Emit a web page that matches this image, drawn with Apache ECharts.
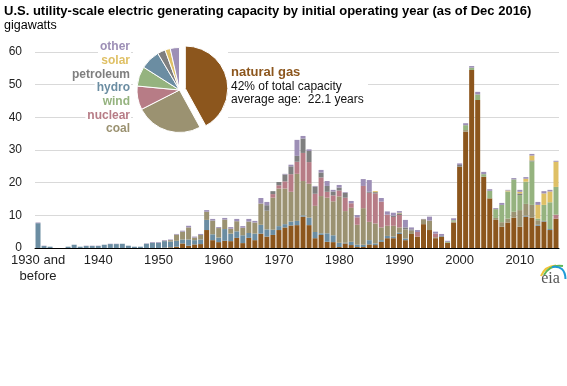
<!DOCTYPE html>
<html><head><meta charset="utf-8">
<script src="https://cdn.jsdelivr.net/npm/echarts@6/dist/echarts.min.js"></script>
<style>html,body{margin:0;padding:0;background:#fff}#c{width:567px;height:386px}</style>
</head><body><div id="c"></div>
<script>
// categories 1930..2016
const years = [];
for (let y = 1930; y <= 2016; y++) years.push(y);
const yearLabels = years.map(y => y === 1930 ? '1930 and\nbefore' : String(y));

// gigawatts, one value per year 1930..2016
const gas = [
 0,0,0,0,0,0,0,0,0,0,
 0,0,0,0,0,0,0,0,0,0,
 0,0.1,0.2,0.4,1.4,0.7,1.1,1.2,5.5,2.4,
 1.8,2.2,2.1,3.1,1.5,3.1,2.4,4.4,3.5,4.0,
 5.5,6.3,6.9,7.0,9.6,7.0,3.0,4.0,1.9,1.8,
 0.3,1.4,0.9,0.3,0.3,1.1,0.9,1.9,3.0,3.0,
 4.3,2.4,4.3,3.5,7.3,5.5,3.0,3.5,1.6,7.8,
 24.9,35.6,54.5,45.3,21.8,15.2,8.6,6.5,7.8,9.3,
 6.5,9.6,9.3,6.8,8.1,5.5,9.0];
const hydro = [
 7.6,0.6,0.4,0,0,0.4,1.0,0.4,0.6,0.6,
 0.6,1.0,1.2,1.2,1.3,0.7,0.4,0.4,1.3,1.6,
 1.6,2.0,1.8,1.8,1.2,1.9,1.3,1.4,3.1,1.8,
 1.4,3.6,2.3,2.0,2.4,1.5,2.0,2.7,2.2,1.6,
 1.2,1.0,1.2,1.3,0.4,2.3,1.9,0.5,2.6,2.1,
 1.3,0.2,1.0,0.7,0.7,1.3,0.5,0.5,0.7,0.5,
 0.4,0.5,0,0,0,0,0,0.2,0,0,
 0,0,0,0,0,0,0,0,0,0,
 0,0.3,0,0.3,0.2,0.3,0];
const coal = [
 0,0,0,0,0,0,0,0,0,0,
 0,0,0,0,0,0,0,0,0,0,
 0,0.1,0.4,1.9,2.4,3.7,0.8,1.4,2.5,4.2,
 2.9,2.9,1.5,3.1,2.3,3.5,3.4,6.5,5.7,9.8,
 11.5,10.9,9.1,14.4,10.5,10.4,8.0,11.4,10.9,10.4,
 14.2,9.7,10.4,6.1,11.2,5.6,6.1,3.9,3.1,3.3,
 1.6,2.8,1.0,0,1.5,2.9,0.3,0,0,0.3,
 0,0.5,0,0,0,0,0.6,1.4,1.2,1.8,
 5.1,3.6,3.9,1.4,0,0,0];
const nuclear = [
 0,0,0,0,0,0,0,0,0,0,
 0,0,0,0,0,0,0,0,0,0,
 0,0,0,0,0,0,0,0,0,0,
 0,0,0,0,0,0,0,0,0,1.1,
 1.0,2.2,5.4,3.7,8.6,6.6,3.7,5.7,1.8,1.8,
 1.8,4.1,1.4,2.3,6.8,8.9,9.2,7.9,3.4,2.7,
 3.8,0,0,1.4,0,0,1.1,0,0,0,
 0,0,0,0,0,0,0,0,0,0,
 0,0,0,0,0,0,1.2];
const wind = [
 0,0,0,0,0,0,0,0,0,0,
 0,0,0,0,0,0,0,0,0,0,
 0,0,0,0,0,0,0,0,0,0,
 0,0,0,0,0,0,0,0,0,0,
 0,0,0,0,0,0,0,0,0,0,
 0,0,0,0,0,0,0,0,0,0,
 0,0,0,0,0,0,0,0,0.3,0.4,
 0,1.5,0.7,1.7,0.8,2.3,2.7,5.3,8.3,9.9,
 4.6,6.8,13.3,0.5,4.9,8.2,8.5];
const petroleum = [
 0,0,0,0,0,0,0,0,0,0,
 0,0,0,0,0,0,0,0,0,0,
 0,0,0,0,0,0,0,0,0,0,
 0,0,0,0,0,0,0,0,1.7,0.9,
 1.0,2.1,2.4,1.8,4.4,3.4,2.2,1.5,1.8,1.2,
 0.9,1.5,0,0,0,0.3,0.4,0,0,0.4,
 0.5,0.6,0.4,0,0,0,0,0,0,0,
 0.5,0,0,0,0,0,0,0,0,0,
 0.5,0,0.3,0,0,0,0];
const solar = [
 0,0,0,0,0,0,0,0,0,0,
 0,0,0,0,0,0,0,0,0,0,
 0,0,0,0,0,0,0,0,0,0,
 0,0,0,0,0,0,0,0,0,0,
 0,0,0,0,0,0,0,0,0,0,
 0,0,0,0,0,0,0.3,0,0,0,
 0.2,0,0,0,0,0,0,0,0,0,
 0,0,0,0,0,0,0,0,0.3,0,
 0.5,0.9,1.5,4.2,3.5,3.3,7.7];
const other = [
 0.2,0.1,0,0,0,0,0,0,0.1,0.1,
 0.1,0,0.1,0.1,0,0,0,0,0.1,0.2,
 0.2,0.2,0.2,0.2,0.3,0.5,0.3,0.3,0.5,0.5,
 0.3,0.5,0.5,0.7,0.5,0.8,0.5,1.7,1.0,0,
 0,0.2,0.5,4.9,0.8,0.5,0.2,0.8,1.5,0.5,
 0.8,0.2,0.7,0.7,2.1,3.6,0,1.1,1.0,0.9,
 0.5,2.3,0.6,0.6,0.1,1.2,0.6,0.6,0.3,0.6,
 0.5,0.6,0.5,0.8,0.7,0.5,0.3,0.6,0.2,0.4,
 0.6,0.5,0.5,0.9,0.7,0.5,0.3];

// share of total capacity (%), pie
const pieNames  = ['natural gas','coal','nuclear','wind','hydro','petroleum','solar','other'];
const pieShares = [42, 25.5, 9, 7.5, 7.5, 3, 2, 3.5];
const yTicks = [0,10,20,30,40,50,60];

const C = {
  'natural gas':'#8c561d', coal:'#9b9271', nuclear:'#b77c86', wind:'#95b37f',
  hydro:'#6b8da2', petroleum:'#7f7f7f', solar:'#dfc065', other:'#9d8fb6'
};
const stackOrder = [['natural gas',gas],['hydro',hydro],['coal',coal],['nuclear',nuclear],
  ['wind',wind],['petroleum',petroleum],['solar',solar],['other',other]];

const FONT = '"Liberation Sans", Arial, sans-serif';
const chart = echarts.init(document.getElementById('c'), null, {renderer:'canvas'});

const barSeries = stackOrder.map(([n, arr]) => ({
  name: n, type: 'bar', stack: 'total', data: arr, barCategoryGap: '17%',
  itemStyle: { color: C[n] }, z: 2, silent: true
}));

const legendLabels = [
  ['other', 47], ['solar', 61], ['petroleum', 74.5], ['hydro', 88],
  ['wind', 102], ['nuclear', 115.5], ['coal', 129]
];

const graphics = [
  { type:'rect', z:3, shape:{x:133, y:43, width:95, height:94}, style:{fill:'#fff'} },
  { type:'rect', z:3, shape:{x:228, y:62, width:140, height:46}, style:{fill:'#fff'} },
  { type:'text', z:6, style:{ text:'natural gas', x:231, y:72, fill:C['natural gas'],
      font:'bold 13px ' + FONT, textAlign:'left', textVerticalAlign:'middle', verticalAlign:'middle' } },
  { type:'text', z:6, style:{ text:'42% of total capacity', x:231, y:86.5, fill:'#111',
      font:'12px ' + FONT, textAlign:'left', textVerticalAlign:'middle', verticalAlign:'middle' } },
  { type:'text', z:6, style:{ text:'average age:  22.1 years', x:231, y:100, fill:'#111',
      font:'12px ' + FONT, textAlign:'left', textVerticalAlign:'middle', verticalAlign:'middle' } },
  // eia logo
  { type:'bezierCurve', z:6, shape:{x1:541, y1:276, cpx1:545, cpy1:266, x2:556, y2:265.5},
      style:{stroke:'#f0c43a', lineWidth:2, fill:null} },
  { type:'bezierCurve', z:6, shape:{x1:544, y1:275, cpx1:550, cpy1:264, x2:563, y2:266},
      style:{stroke:'#5db75a', lineWidth:2, fill:null} },
  { type:'bezierCurve', z:6, shape:{x1:552, y1:267, cpx1:565, cpy1:265, x2:565.5, y2:279},
      style:{stroke:'#1f9bd7', lineWidth:2, fill:null} },
  { type:'text', z:6, style:{ text:'eia', x:550.5, y:279, fill:'#555',
      font:'16px "Liberation Serif", "DejaVu Serif", serif', textAlign:'center', textVerticalAlign:'middle', verticalAlign:'middle' } }
];
legendLabels.forEach(([n, y]) => {
  graphics.push({ type:'text', z:6, style:{ text:n, x:131, y:y, fill:C[n],
    font:'bold 12px ' + FONT, textAlign:'right', textVerticalAlign:'middle', verticalAlign:'middle',
    backgroundColor:'#fff', padding:[0,1,0,2] } });
});

chart.setOption({
  animation: false,
  backgroundColor: '#fff',
  title: {
    text: 'U.S. utility-scale electric generating capacity by initial operating year (as of Dec 2016)',
    subtext: 'gigawatts',
    left: 4, top: 5, padding: 0, itemGap: 1.5,
    textStyle: { fontFamily: FONT, fontSize: 13, fontWeight: 'bold', color: '#000' },
    subtextStyle: { fontFamily: FONT, fontSize: 12.5, color: '#000' }
  },
  grid: { left: 35, right: 8, top: 52, bottom: 138 },
  xAxis: {
    type: 'category', data: yearLabels, boundaryGap: true,
    axisLine: { lineStyle: { color: '#000', width: 1 } },
    axisTick: { interval: 9, length: 4, lineStyle: { color: '#000' } },
    axisLabel: { interval: 9, fontFamily: FONT, fontSize: 13, color: '#222', margin: 4, lineHeight: 16 }
  },
  yAxis: {
    type: 'value', min: 0, max: 60, interval: 10,
    axisLine: { show: false }, axisTick: { show: false },
    axisLabel: { fontFamily: FONT, fontSize: 12, color: '#222', margin: 13,
      formatter: v => yTicks.includes(v) ? String(v) : '' },
    splitLine: { lineStyle: { color: '#d9d9d9', width: 1 } }
  },
  graphic: graphics,
  series: barSeries.concat([{
    type: 'pie', z: 5, center: [179.5, 90], radius: 42.5,
    startAngle: 90, clockwise: true, silent: false,
    selectedMode: 'single', selectedOffset: 6,
    label: { show: false }, labelLine: { show: false },
    emphasis: { disabled: true },
    itemStyle: { borderColor: '#fff', borderWidth: 1 },
    data: pieNames.map((n, i) => ({ name: n, value: pieShares[i], selected: i === 0,
      itemStyle: { color: C[n] } }))
  }])
});
</script></body></html>
